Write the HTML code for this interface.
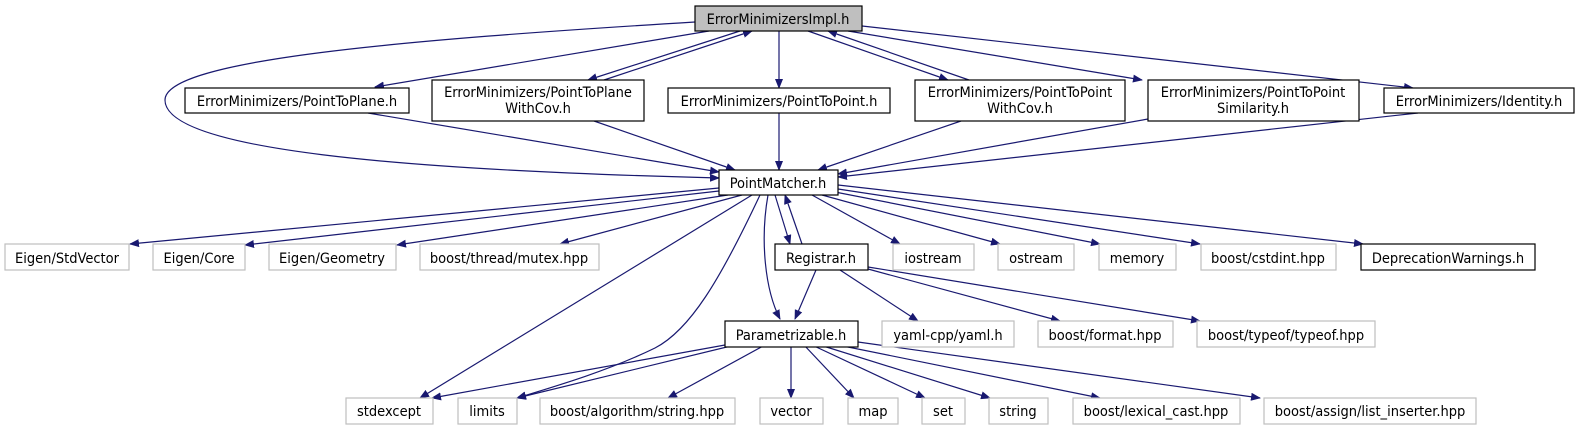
<!DOCTYPE html>
<html><head><meta charset="utf-8"><style>
html,body{margin:0;padding:0;background:#fff;}
svg{display:block;}
text{font-family:"DejaVu Sans Condensed","DejaVu Sans","Liberation Sans",sans-serif;font-size:14.5px;fill:#000;text-anchor:middle;}
.e{fill:none;stroke:#191970;stroke-width:1.2;marker-end:url(#a);}
.n{fill:#fff;stroke:#000;stroke-width:1.2;}
.g{fill:#fff;stroke:#bfbfbf;stroke-width:1.2;}
</style></head><body>
<svg width="1577" height="425" viewBox="0 0 1577 425" xmlns="http://www.w3.org/2000/svg">
<defs><marker id="a" markerWidth="10" markerHeight="8" refX="9" refY="4" orient="auto" markerUnits="userSpaceOnUse"><path d="M0,0 L10,4 L0,8 z" fill="#191970"/></marker></defs>
<path class="e" d="M695,22 C400,40 165,60 165,100 C165,150 400,170 719,178"/>
<path class="e" d="M709,31 L375,87"/>
<path class="e" d="M740,31 L588,80"/>
<path class="e" d="M604,80 L752,31"/>
<path class="e" d="M779,31 L779,88"/>
<path class="e" d="M808,31 L948,80"/>
<path class="e" d="M969,80 L828,31"/>
<path class="e" d="M848,31 L1142,80"/>
<path class="e" d="M862,26 L1413,88"/>
<path class="e" d="M368,113 L719,172"/>
<path class="e" d="M594,121 L735,170"/>
<path class="e" d="M779,113 L779,170"/>
<path class="e" d="M961,121 L818,170"/>
<path class="e" d="M1148,119 L838,174"/>
<path class="e" d="M1418,113 L838,177"/>
<path class="e" d="M719,188 L130,244"/>
<path class="e" d="M719,191 L245,245"/>
<path class="e" d="M728,195 L397,245"/>
<path class="e" d="M742,195 L560,244"/>
<path class="e" d="M752,195 L420,398"/>
<path class="e" d="M760,195 C720,280 690,330 655,348 C610,370 560,385 517,398"/>
<path class="e" d="M768,195 C760,240 765,290 780,319"/>
<path class="e" d="M775,195 L790,244"/>
<path class="e" d="M802,244 L785,195"/>
<path class="e" d="M812,195 L900,244"/>
<path class="e" d="M822,195 L1000,244"/>
<path class="e" d="M835,192 L1100,244"/>
<path class="e" d="M838,189 L1200,244"/>
<path class="e" d="M838,185 L1363,244"/>
<path class="e" d="M816,270 L795,319"/>
<path class="e" d="M840,270 L918,321"/>
<path class="e" d="M868,269 L1060,321"/>
<path class="e" d="M868,267 L1200,321"/>
<path class="e" d="M725,345 L432,398"/>
<path class="e" d="M735,345 L517,398"/>
<path class="e" d="M765,345 L668,398"/>
<path class="e" d="M791,345 L791,398"/>
<path class="e" d="M804,345 L854,398"/>
<path class="e" d="M812,345 L925,398"/>
<path class="e" d="M820,345 L990,398"/>
<path class="e" d="M838,345 L1100,398"/>
<path class="e" d="M858,342 L1260,398"/>
<rect x="695" y="6" width="167" height="25" fill="#bfbfbf" stroke="#000" stroke-width="1.2"/><text x="778" y="24">ErrorMinimizersImpl.h</text>
<rect class="n" x="185" y="88" width="224" height="25"/><text x="297" y="106">ErrorMinimizers/PointToPlane.h</text>
<rect class="n" x="432" y="80" width="212" height="41"/><text x="538" y="97">ErrorMinimizers/PointToPlane</text><text x="538" y="113">WithCov.h</text>
<rect class="n" x="668" y="88" width="222" height="25"/><text x="779" y="106">ErrorMinimizers/PointToPoint.h</text>
<rect class="n" x="915" y="80" width="210" height="41"/><text x="1020" y="97">ErrorMinimizers/PointToPoint</text><text x="1020" y="113">WithCov.h</text>
<rect class="n" x="1148" y="80" width="211" height="41"/><text x="1253" y="97">ErrorMinimizers/PointToPoint</text><text x="1253" y="113">Similarity.h</text>
<rect class="n" x="1384" y="88" width="190" height="25"/><text x="1479" y="106">ErrorMinimizers/Identity.h</text>
<rect class="n" x="719" y="170" width="119" height="25"/><text x="778" y="188">PointMatcher.h</text>
<rect class="g" x="5" y="244" width="124" height="26"/><text x="67" y="263">Eigen/StdVector</text>
<rect class="g" x="153" y="244" width="92" height="26"/><text x="199" y="263">Eigen/Core</text>
<rect class="g" x="269" y="244" width="127" height="26"/><text x="332" y="263">Eigen/Geometry</text>
<rect class="g" x="420" y="244" width="179" height="26"/><text x="509" y="263">boost/thread/mutex.hpp</text>
<rect class="n" x="775" y="244" width="93" height="26"/><text x="821" y="263">Registrar.h</text>
<rect class="g" x="893" y="244" width="81" height="26"/><text x="933" y="263">iostream</text>
<rect class="g" x="998" y="244" width="76" height="26"/><text x="1036" y="263">ostream</text>
<rect class="g" x="1099" y="244" width="77" height="26"/><text x="1137" y="263">memory</text>
<rect class="g" x="1201" y="244" width="135" height="26"/><text x="1268" y="263">boost/cstdint.hpp</text>
<rect class="n" x="1361" y="244" width="174" height="26"/><text x="1448" y="263">DeprecationWarnings.h</text>
<rect class="n" x="725" y="321" width="133" height="26"/><text x="791" y="340">Parametrizable.h</text>
<rect class="g" x="882" y="321" width="132" height="26"/><text x="948" y="340">yaml-cpp/yaml.h</text>
<rect class="g" x="1038" y="321" width="135" height="26"/><text x="1105" y="340">boost/format.hpp</text>
<rect class="g" x="1197" y="321" width="178" height="26"/><text x="1286" y="340">boost/typeof/typeof.hpp</text>
<rect class="g" x="346" y="398" width="87" height="26"/><text x="389" y="416">stdexcept</text>
<rect class="g" x="458" y="398" width="59" height="26"/><text x="487" y="416">limits</text>
<rect class="g" x="540" y="398" width="195" height="26"/><text x="637" y="416">boost/algorithm/string.hpp</text>
<rect class="g" x="760" y="398" width="63" height="26"/><text x="791" y="416">vector</text>
<rect class="g" x="848" y="398" width="50" height="26"/><text x="873" y="416">map</text>
<rect class="g" x="922" y="398" width="43" height="26"/><text x="943" y="416">set</text>
<rect class="g" x="989" y="398" width="59" height="26"/><text x="1018" y="416">string</text>
<rect class="g" x="1073" y="398" width="167" height="26"/><text x="1156" y="416">boost/lexical_cast.hpp</text>
<rect class="g" x="1264" y="398" width="212" height="26"/><text x="1370" y="416">boost/assign/list_inserter.hpp</text>
</svg>
</body></html>
